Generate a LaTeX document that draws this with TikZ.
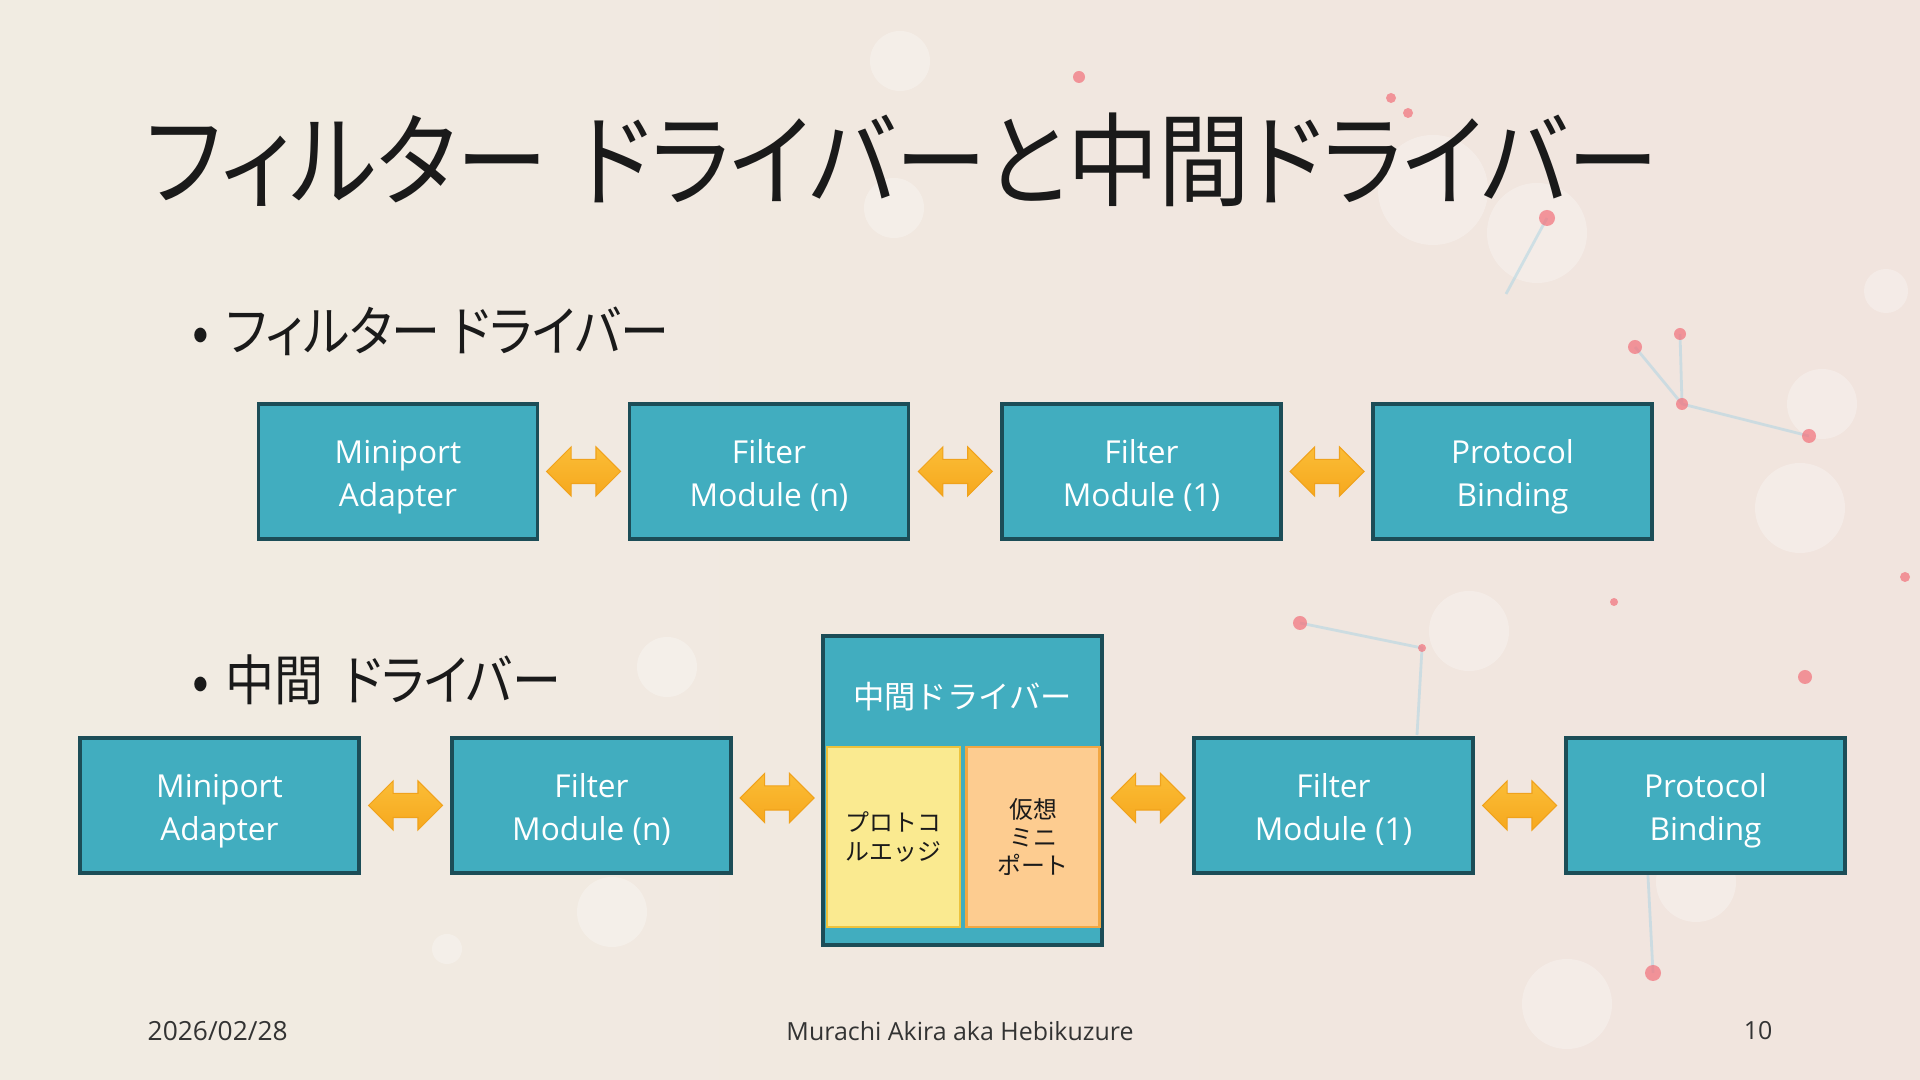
\documentclass[tikz,border=0pt]{standalone}
\usepackage{fontspec}
\setmainfont{Open Sans}
\newfontfamily\jpfont{Noto Sans CJK JP}
\newfontfamily\jpnarrow[RawFeature=+palt, FakeStretch=0.9]{Noto Sans CJK JP}
\usetikzlibrary{positioning,calc,shapes.arrows}

\definecolor{boxteal}{HTML}{41ADBF}
\definecolor{boxedge}{HTML}{1C4D57}
\definecolor{arrowtop}{HTML}{FBBD36}
\definecolor{arrowbot}{HTML}{F6A81E}
\definecolor{arrowedge}{HTML}{F0A21C}
\definecolor{edgefill}{HTML}{FAEA90}
\definecolor{edgeline}{HTML}{EDC33C}
\definecolor{portfill}{HTML}{FDCC90}
\definecolor{portline}{HTML}{F2A743}
\definecolor{slidebg}{HTML}{F1ECE2}
\definecolor{slidebgr}{HTML}{F1E4DE}
\definecolor{dotpink}{HTML}{F2707A}
\definecolor{netblue}{HTML}{A9D3E3}
\definecolor{inktext}{HTML}{1A1A1A}

\begin{document}
\begin{tikzpicture}[
  block/.style={draw=boxedge, line width=1pt, fill=boxteal,
    minimum width=2.79cm, minimum height=1.35cm, align=center,
    text=white, text height=22.4pt, text depth=2.5pt,
    font=\fontsize{9}{12.2}\selectfont},
  dblarr/.style={double arrow, draw=arrowedge, line width=0.3pt,
    top color=arrowtop, bottom color=arrowbot,
    inner xsep=0pt, inner ysep=0.115cm, minimum height=0.74cm,
    minimum width=0.48cm, double arrow head extend=0.125cm},
  innerbox/.style={minimum width=1.33cm, minimum height=1.8cm,
    line width=0.6pt, align=center, text=inktext,
    font=\jpfont\fontsize{6.8}{8}\selectfont},
  bullet/.style={anchor=west, inner sep=0pt, text=inktext,
    font=\jpnarrow\fontsize{15.5}{17}\selectfont},
  foot/.style={text=black!80, font=\fontsize{7.1}{8}\selectfont},
  bokeh/.style={fill=white, opacity=0.28},
  netdot/.style={fill=dotpink, opacity=0.7}
]

% Background
\useasboundingbox (0,0) rectangle (19.2,10.8);
\shade[left color=slidebg, right color=slidebgr] (0,0) rectangle (19.2,10.8);
\foreach \x/\y/\r in {9.0/10.19/0.3, 14.33/8.9/0.55, 15.37/8.47/0.5,
    18.86/7.89/0.22, 18.22/6.76/0.35, 18.0/5.72/0.45, 7.84/5.78/0.35,
    6.12/1.68/0.35, 4.47/1.31/0.15, 6.67/4.13/0.3, 14.69/4.49/0.4,
    16.96/1.98/0.4, 15.67/0.76/0.45, 8.94/8.72/0.3}
  \fill[bokeh] (\x,\y) circle (\r);
\draw[netblue, line width=0.8pt, opacity=0.5]
  (15.47,8.62) -- (15.06,7.86)
  (16.35,7.33) -- (16.82,6.76) -- (18.09,6.44)
  (16.80,7.46) -- (16.82,6.76)
  (13.00,4.57) -- (14.22,4.32) -- (14.17,3.45)
  (16.53,1.07) -- (16.47,2.23);
\foreach \x/\y/\r in {10.79/10.03/0.06, 15.47/8.62/0.08, 16.35/7.33/0.07,
    16.80/7.46/0.06, 16.82/6.76/0.06, 18.09/6.44/0.07, 19.05/5.03/0.05,
    18.05/4.03/0.07, 13.00/4.57/0.07, 14.22/4.32/0.04, 16.53/1.07/0.08,
    13.91/9.82/0.05, 14.08/9.67/0.05, 16.14/4.78/0.04}
  \fill[netdot] (\x,\y) circle (\r);

% Title
\node[anchor=west, inner sep=0pt, text=inktext,
  font=\jpnarrow\fontsize{29}{32}\selectfont]
  (title) at (1.45,9.2) {フィルター\hspace{0.3em}ドライバーと中間ドライバー};

% Bullets
\node[bullet] (bfilt) at (1.92,7.49) {•\hspace{0.3em}フィルター ドライバー};
\node[bullet] (bmid) at (1.92,4.0) {•\hspace{0.3em}中間\hspace{0.35em}ドライバー};

% Filter driver stack
\node[block] (mini1) at (3.98,6.085) {Miniport\\Adapter};
\node[block] (filtn1) at (7.69,6.085) {Filter\\Module (n)};
\node[block] (filt11) at (11.415,6.085) {Filter\\Module (1)};
\node[block] (proto1) at (15.125,6.085) {Protocol\\Binding};

\node[dblarr] (a11) at ($(mini1.east)!0.5!(filtn1.west)$) {};
\node[dblarr] (a12) at ($(filtn1.east)!0.5!(filt11.west)$) {};
\node[dblarr] (a13) at ($(filt11.east)!0.5!(proto1.west)$) {};

% Intermediate driver stack
\node[block] (mini2) at (2.195,2.745) {Miniport\\Adapter};
\node[block] (filtn2) at (5.915,2.745) {Filter\\Module (n)};
\node[block, minimum height=3.09cm] (mid) at (9.625,2.895) {};
\node[block] (filt12) at (13.335,2.745) {Filter\\Module (1)};
\node[block] (proto2) at (17.055,2.745) {Protocol\\Binding};

% Inside the intermediate driver
\node[text=white, font=\jpfont\fontsize{8.9}{10}\selectfont]
  (midlabel) at (9.625,3.83) {中間ドライバー};
\node[innerbox, draw=edgeline, fill=edgefill] (pedge) at (8.935,2.43)
  {プロトコ\\ルエッジ};
\node[innerbox, draw=portline, fill=portfill] (vport) at (10.33,2.43)
  {仮想\\ミニ\\ポート};

\node[dblarr] (a21) at ($(mini2.east)!0.5!(filtn2.west)$) {};
\node[dblarr] (a22) at ($(filtn2.east)!0.5!(mid.west)$ |- mini2) {};
\node[dblarr] (a23) at ($(mid.east)!0.5!(filt12.west)$ |- mini2) {};
\node[dblarr] (a24) at ($(filt12.east)!0.5!(proto2.west)$) {};

% Footer
\node[foot, anchor=west, inner sep=0pt, font=\fontsize{7.5}{8}\selectfont]
  (date) at (1.47,0.49) {2026/02/28};
\node[foot] (author) at (9.6,0.49) {Murachi Akira aka Hebikuzure};
\node[foot] (page) at (17.58,0.49) {10};

\end{tikzpicture}
\end{document}
